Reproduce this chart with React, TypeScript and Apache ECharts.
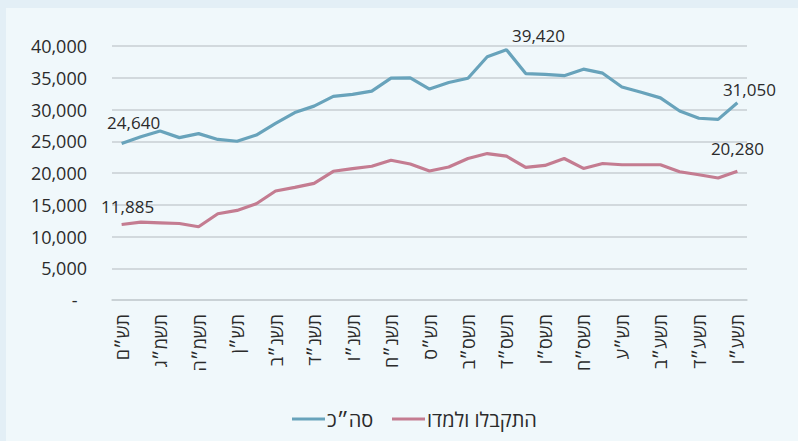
import React, { useEffect, useRef } from "react";
import * as echarts from "echarts";

const years: string[] = [
  "תש״ם", "תשמ״א", "תשמ״ג", "תשמ״ד", "תשמ״ה", "תשמ״ז", "תש״ן",
  "תשנ״א", "תשנ״ב", "תשנ״ג", "תשנ״ד", "תשנ״ה", "תשנ״ו", "תשנ״ז", "תשנ״ח", "תשנ״ט",
  "תש״ס", "תשס״א", "תשס״ב", "תשס״ג", "תשס״ד", "תשס״ה", "תשס״ו", "תשס״ז", "תשס״ח", "תשס״ט",
  "תש״ע", "תשע״א", "תשע״ב", "תשע״ג", "תשע״ד", "תשע״ה", "תשע״ו",
];

const totalName = "סה״כ";
const totalValues: number[] = [
  24640, 25700, 26610, 25570, 26200, 25290, 25000, 25970, 27800, 29520, 30530,
  32070, 32390, 32900, 34940, 34980, 33220, 34260, 34920, 38300, 39420, 35650,
  35540, 35330, 36350, 35720, 33550, 32720, 31830, 29770, 28620, 28440, 31050,
];

const acceptedName = "התקבלו ולמדו";
const acceptedValues: number[] = [
  11885, 12260, 12160, 12050, 11530, 13580, 14110, 15160, 17160, 17740, 18370,
  20270, 20700, 21060, 22010, 21420, 20320, 20950, 22280, 23060, 22650, 20880,
  21190, 22280, 20720, 21500, 21300, 21300, 21300, 20200, 19730, 19220, 20280,
];

const yTicks = { min: 0, max: 40000, interval: 5000 };

const fmt = (v: number) => (v === 0 ? "-" : v.toLocaleString("en-US"));

export default function App() {
  const ref = useRef<HTMLDivElement>(null);
  useEffect(() => {
    if (!ref.current) return;
    const chart = echarts.init(ref.current, undefined, { renderer: "svg" });
    const font = "'Open Sans', 'Noto Sans', sans-serif";
    const labelStyle = { fontFamily: font, fontSize: 17, color: "#2b2b2b" };
    const lastIdx = totalValues.length - 1;
    const peakIdx = totalValues.indexOf(Math.max(...totalValues));
    const lbl = (offset: number[]) => ({
      show: true,
      position: "top",
      offset,
      formatter: (p: any) => fmt(p.value),
      ...labelStyle,
    });
    const legendBase = {
      bottom: 7,
      itemWidth: 33,
      itemHeight: 3,
      icon: "rect",
      textStyle: { fontFamily: font, fontSize: 20, color: "#2b2b2b", padding: [0, 0, 0, -3] },
    };
    chart.setOption({
      animation: false,
      backgroundColor: "transparent",
      textStyle: { fontFamily: font },
      grid: { left: 112, right: 51, top: 46, bottom: 141, containLabel: false },
      legend: [
        { ...legendBase, left: 287, data: [totalName] },
        { ...legendBase, left: 387, data: [acceptedName] },
      ],
      xAxis: {
        type: "category",
        data: years,
        boundaryGap: true,
        axisLine: { show: true, lineStyle: { color: "#c8cfd3", width: 1.5 } },
        axisTick: { show: false },
        axisLabel: {
          interval: 1,
          rotate: 90,
          margin: 14,
          fontFamily: font,
          fontSize: 18,
          color: "#2b2b2b",
        },
      },
      yAxis: {
        type: "value",
        min: yTicks.min,
        max: yTicks.max,
        interval: yTicks.interval,
        axisLine: { show: false },
        axisTick: { show: false },
        splitLine: { lineStyle: { color: "#c8cfd3", width: 1.5 } },
        axisLabel: {
          formatter: (v: number) => (v === 0 ? "-\u00A0\u00A0" : fmt(v)),
          margin: 25,
          fontFamily: font,
          fontSize: 18,
          color: "#2b2b2b",
        },
      },
      series: [
        {
          name: totalName,
          type: "line",
          data: totalValues.map((v, i) => {
            if (i === 0) return { value: v, label: lbl([12, -8]) };
            if (i === peakIdx) return { value: v, label: lbl([32, -1]) };
            if (i === lastIdx) return { value: v, label: lbl([12, 0]) };
            return v;
          }),
          symbol: "circle",
          symbolSize: 0,
          showSymbol: true,
          lineStyle: { color: "#68a3bb", width: 3.2 },
          itemStyle: { color: "#68a3bb" },
          label: { show: false },
        },
        {
          name: acceptedName,
          type: "line",
          data: acceptedValues.map((v, i) => {
            if (i === 0) return { value: v, label: lbl([6, -5]) };
            if (i === lastIdx) return { value: v, label: lbl([0, -9]) };
            return v;
          }),
          symbol: "circle",
          symbolSize: 0,
          showSymbol: true,
          lineStyle: { color: "#c47c91", width: 3.2 },
          itemStyle: { color: "#c47c91" },
          label: { show: false },
        },
      ],
    });
    return () => chart.dispose();
  }, []);

  return (
    <div
      style={{
        position: "fixed",
        left: 0,
        top: 0,
        width: 798,
        height: 441,
        background: "#e3eff6",
      }}
    >
      <div
        style={{
          position: "absolute",
          left: 6,
          top: 8,
          width: 792,
          height: 433,
          background: "#f0f8fb",
        }}
      />
      <div
        ref={ref}
        style={{ position: "absolute", left: 0, top: 0, width: 798, height: 441 }}
      />
    </div>
  );
}
